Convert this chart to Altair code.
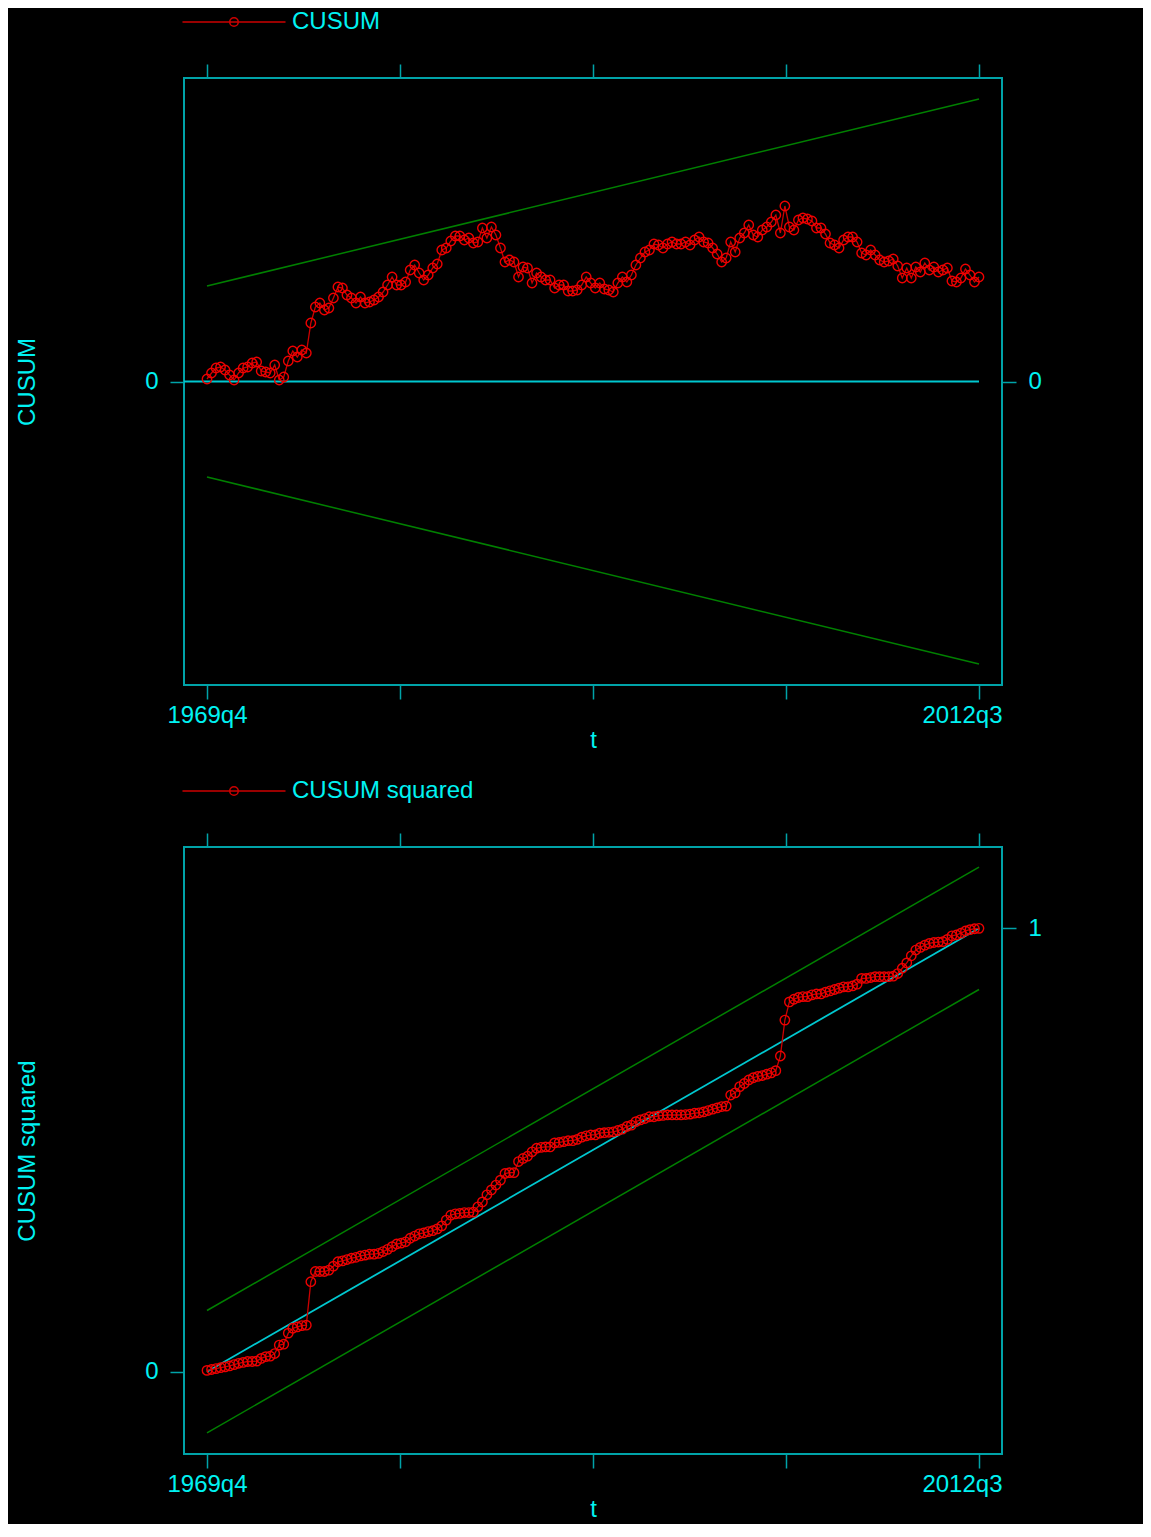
import altair as alt
import pandas as pd

# time index: 0 = 1969q4 ... 171 = 2012q3
quarters = list(range(172))
x_tick_values = [0, 42.75, 85.5, 128.25, 171]
x_tick_labels = ["1969q4", "", "", "", "2012q3"]

cusum = [0.25, 0.85, 1.35, 1.45, 1.15, 0.65, 0.15, 0.85, 1.35, 1.45,
         1.85, 1.95, 1.05, 0.95, 0.85, 1.65, 0.15, 0.45, 2.05, 3.05,
         2.45, 3.15, 2.85, 5.85, 7.45, 7.85, 7.15, 7.35, 8.35, 9.45,
         9.35, 8.65, 8.35, 7.85, 8.45, 7.85, 7.95, 8.15, 8.45, 8.95,
         9.65, 10.45, 9.65, 9.65, 9.95, 11.15, 11.65, 10.85, 10.15, 10.65,
         11.35, 11.75, 13.15, 13.35, 14.05, 14.55, 14.55, 14.15, 14.35, 13.85,
         13.95, 15.35, 14.35, 15.45, 14.65, 13.35, 11.95, 12.15, 11.95, 10.45,
         11.45, 11.35, 9.85, 10.85, 10.45, 10.15, 10.15, 9.35, 9.65, 9.65,
         9.05, 9.05, 9.15, 9.65, 10.45, 9.85, 9.35, 9.85, 9.25, 9.15,
         8.95, 9.85, 10.45, 9.95, 10.65, 11.65, 12.35, 12.95, 13.15, 13.75,
         13.65, 13.35, 13.75, 13.95, 13.75, 13.75, 13.95, 13.65, 14.15, 14.45,
         13.95, 13.85, 13.35, 12.75, 11.95, 12.35, 13.95, 12.95, 14.35, 14.85,
         15.65, 14.65, 14.45, 15.15, 15.45, 15.95, 16.65, 14.85, 17.55, 15.45,
         15.15, 16.15, 16.35, 16.25, 16.05, 15.35, 15.35, 14.75, 13.85, 13.65,
         13.35, 14.15, 14.45, 14.45, 13.95, 12.85, 12.65, 13.15, 12.65, 12.15,
         11.95, 12.05, 12.25, 11.55, 10.35, 11.35, 10.35, 11.45, 10.95, 11.85,
         11.15, 11.45, 10.95, 11.15, 11.35, 10.05, 9.95, 10.35, 11.25, 10.65,
         9.95, 10.45]

cusum_sq = [0.003, 0.005, 0.007, 0.009, 0.011, 0.013, 0.016, 0.019, 0.021, 0.023,
            0.023, 0.024, 0.030, 0.034, 0.035, 0.041, 0.060, 0.062, 0.087, 0.098,
            0.101, 0.104, 0.105, 0.203, 0.226, 0.226, 0.226, 0.229, 0.238, 0.248,
            0.250, 0.253, 0.256, 0.258, 0.261, 0.263, 0.265, 0.265, 0.267, 0.271,
            0.276, 0.282, 0.288, 0.290, 0.293, 0.301, 0.306, 0.311, 0.313, 0.316,
            0.318, 0.322, 0.329, 0.342, 0.353, 0.356, 0.357, 0.359, 0.359, 0.360,
            0.372, 0.383, 0.399, 0.410, 0.421, 0.432, 0.447, 0.449, 0.449, 0.474,
            0.481, 0.486, 0.496, 0.504, 0.506, 0.507, 0.507, 0.516, 0.517, 0.519,
            0.521, 0.521, 0.524, 0.529, 0.532, 0.534, 0.534, 0.538, 0.539, 0.540,
            0.541, 0.544, 0.547, 0.553, 0.556, 0.564, 0.568, 0.571, 0.575, 0.575,
            0.577, 0.578, 0.579, 0.579, 0.579, 0.579, 0.580, 0.581, 0.583, 0.584,
            0.586, 0.589, 0.592, 0.595, 0.598, 0.599, 0.624, 0.629, 0.643, 0.650,
            0.658, 0.663, 0.666, 0.668, 0.671, 0.674, 0.679, 0.712, 0.793, 0.834,
            0.840, 0.844, 0.846, 0.846, 0.850, 0.852, 0.852, 0.856, 0.859, 0.862,
            0.865, 0.868, 0.868, 0.870, 0.874, 0.887, 0.887, 0.889, 0.891, 0.891,
            0.891, 0.891, 0.892, 0.898, 0.910, 0.922, 0.938, 0.951, 0.957, 0.962,
            0.966, 0.968, 0.969, 0.970, 0.975, 0.983, 0.985, 0.989, 0.994, 0.997,
            0.999, 1.000]

# 5% bounds (straight lines between first and last period)
cusum_bound_start = 9.55
cusum_bound_end = 28.25
sq_band = 0.138

# ---------------------------------------------------------------- styling
FONT = "Liberation Sans"
FRAME = "#00a3a8"
LABEL = "#00f2f2"
REF = "#00c8d0"
GREEN = "#008000"
RED = "#ee0000"
RED_LINE = "#cc0000"
W, H = 818, 607
X_DOM = [-5.095, 176.095]
LAST_T = x_tick_values[-1]

label_expr = " : ".join(
    f"datum.value == {v} ? '{l}'" for v, l in zip(x_tick_values, x_tick_labels) if l
) + " : ''"

# legend glyph: long line with a small open circle in the middle
LEGEND_PATH = ("M-10.86,0L10.86,0M-0.9,0A0.9,0.9,0,1,1,0.9,0"
               "A0.9,0.9,0,1,1,-0.9,0Z")


def panel(values, name, bounds_df, ref_df, y_dom, left_val, right_val):
    xs = alt.Scale(domain=X_DOM, nice=False, zero=False)
    ys = alt.Scale(domain=y_dom, nice=False, zero=False)
    series = pd.DataFrame({"t": quarters, "v": values, "s": name})

    bottom_axis = alt.Axis(
        orient="bottom", values=x_tick_values, labelExpr=label_expr,
        title="t", titleY=62, titleBaseline="alphabetic",
        labelPadding=4, labelFlush=False, labelOverlap=False,
        labelAlign={"condition": {"test": f"datum.value == {LAST_T}", "value": "right"},
                    "value": "center"},
        labelOffset={"condition": {"test": f"datum.value == {LAST_T}", "value": 23},
                     "value": 0},
    )
    top_axis = alt.Axis(orient="top", values=x_tick_values, labels=False, title=None)
    left_axis = alt.Axis(orient="left", values=[left_val], title=name, titleAngle=270,
                         titleX=-150, titleY=H / 2, titleAlign="center",
                         titleBaseline="alphabetic", labelPadding=12)
    right_axis = alt.Axis(orient="right", values=[right_val], title=None, labelPadding=12)

    bounds = alt.Chart(bounds_df).mark_line(color=GREEN, strokeWidth=1.5).encode(
        x=alt.X("t:Q", scale=xs, axis=bottom_axis),
        y=alt.Y("v:Q", scale=ys, axis=left_axis),
        detail="g:N",
    )
    ref = alt.Chart(ref_df).mark_line(color=REF, strokeWidth=1.8, clip=True).encode(
        x=alt.X("t:Q", scale=xs, axis=top_axis),
        y=alt.Y("v:Q", scale=ys, axis=right_axis),
    )
    line = alt.Chart(series).mark_line(strokeWidth=1.3).encode(
        x=alt.X("t:Q", scale=xs, axis=None),
        y=alt.Y("v:Q", scale=ys, axis=None),
        color=alt.Color("s:N", scale=alt.Scale(domain=[name], range=[RED_LINE]),
                        legend=alt.Legend(
                            title=None, orient="none", legendX=38, legendY=-68,
                            padding=0, symbolType=LEGEND_PATH, symbolSize=90,
                            symbolStrokeWidth=1.5, symbolFillColor="transparent",
                            labelFont=FONT, labelFontSize=24, labelColor=LABEL,
                            labelOffset=46, labelLimit=400)),
    )
    pts = alt.Chart(series).mark_point(shape="circle", filled=False, size=88,
                                       color=RED, strokeWidth=1.4, opacity=1).encode(
        x=alt.X("t:Q", scale=xs, axis=None),
        y=alt.Y("v:Q", scale=ys, axis=None),
    )
    return alt.layer(bounds, ref, line, pts).resolve_scale(
        x="independent", y="independent"
    ).properties(width=W, height=H)


top_bounds = pd.DataFrame({
    "t": [0, 171, 0, 171],
    "v": [cusum_bound_start, cusum_bound_end, -cusum_bound_start, -cusum_bound_end],
    "g": ["upper", "upper", "lower", "lower"],
})
top_ref = pd.DataFrame({"t": [X_DOM[0] - 5, 171], "v": [0, 0]})

bot_bounds = pd.DataFrame({
    "t": [0, 171, 0, 171],
    "v": [sq_band, 1 + sq_band, -sq_band, 1 - sq_band],
    "g": ["upper", "upper", "lower", "lower"],
})
bot_ref = pd.DataFrame({"t": [0, 171], "v": [0, 1]})

top = panel(cusum, "CUSUM", top_bounds, top_ref, [-30.35, 30.35], 0, 0)
bottom = panel(cusum_sq, "CUSUM squared", bot_bounds, bot_ref, [-0.1856, 1.1834], 0, 1)

chart = alt.vconcat(top, bottom, spacing=162, bounds="flush").resolve_scale(
    color="independent", x="independent", y="independent"
).properties(
    padding={"left": 6, "top": 1, "right": 100, "bottom": 2},
    background="black",
).configure_view(
    stroke=FRAME, strokeWidth=2, fill="black"
).configure_axis(
    labelFont=FONT, labelFontSize=24, labelColor=LABEL,
    titleFont=FONT, titleFontSize=24, titleColor=LABEL, titleFontWeight="normal",
    tickColor=FRAME, tickWidth=1.5, tickSize=14, domain=False, grid=False,
)

chart.save("out.html", embed_options={"renderer": "svg", "actions": False})
